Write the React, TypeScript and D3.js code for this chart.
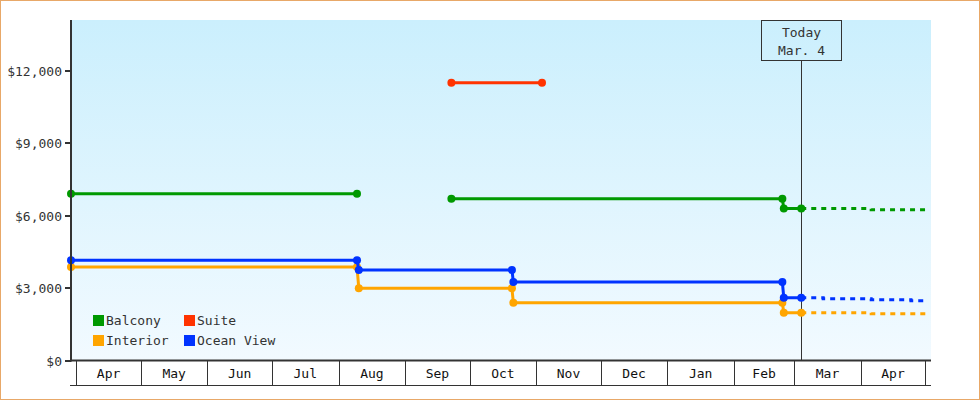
import React from "react";
import * as d3 from "d3";

type Pt = [string, number | null];

const balcony: Pt[] = [
  ["2014-03-29T12:00", 6900], ["2014-08-09T14:00", 6900], ["2014-08-15T00:00", null],
  ["2014-09-22T12:00", 6700], ["2015-02-23T12:00", 6700], ["2015-02-24T04:00", 6290], ["2015-03-04T07:00", 6290],
];
const balconyForecast: Pt[] = [["2015-03-04T07:00", 6290], ["2015-04-05T20:00", 6240], ["2015-05-01T08:00", 6240]];
const suite: Pt[] = [["2014-09-22T12:00", 11500], ["2014-11-03T16:00", 11500]];
const interior: Pt[] = [
  ["2014-03-29T12:00", 3870], ["2014-08-09T14:00", 3870], ["2014-08-10T10:00", 2990], ["2014-10-20T16:00", 2990],
  ["2014-10-21T08:00", 2390], ["2015-02-23T12:00", 2390], ["2015-02-24T04:00", 1975], ["2015-03-04T07:00", 1975],
];
const interiorForecast: Pt[] = [["2015-03-04T07:00", 1975], ["2015-04-05T20:00", 1935], ["2015-05-01T08:00", 1935]];
const oceanView: Pt[] = [
  ["2014-03-29T12:00", 4150], ["2014-08-09T14:00", 4150], ["2014-08-10T10:00", 3750], ["2014-10-20T16:00", 3750],
  ["2014-10-21T08:00", 3250], ["2015-02-23T12:00", 3250], ["2015-02-24T04:00", 2600], ["2015-03-04T07:00", 2600],
];
const oceanViewForecast: Pt[] = [
  ["2015-03-04T07:00", 2600], ["2015-03-14T12:00", 2555], ["2015-04-05T20:00", 2515],
  ["2015-04-24T08:00", 2475], ["2015-05-01T08:00", 2475],
];

const yTicks = [0, 3000, 6000, 9000, 12000];
const legendNames = ["Balcony", "Suite", "Interior", "Ocean View"];
const legendColors = ["#009900", "#ff3300", "#ffa500", "#0033ff"];
const todayDate = "2015-03-04T07:00";
const todayLabel = ["Today", "Mar. 4"];

const FONT = "'DejaVu Sans Mono', 'Liberation Mono', monospace";

export default function App() {
  const W = 980, H = 400;
  const left = 71, right = 931, top = 20, bottom = 360.5;
  const x = d3.scaleTime()
    .domain([new Date("2014-03-29T12:00"), new Date("2015-05-03T16:00")])
    .range([left, right]);
  const y = d3.scaleLinear().domain([0, 14100]).range([bottom, top]);

  const parse = (p: Pt) => ({ t: new Date(p[0]), v: p[1] });
  const line = d3.line<{ t: Date; v: number | null }>()
    .defined((d) => d.v != null)
    .x((d) => x(d.t))
    .y((d) => y(d.v as number));
  const stepLine = d3.line<{ t: Date; v: number | null }>()
    .x((d) => x(d.t))
    .y((d) => y(d.v as number))
    .curve(d3.curveStepAfter);

  const actual = [
    { data: balcony, color: legendColors[0] },
    { data: suite, color: legendColors[1] },
    { data: interior, color: legendColors[2] },
    { data: oceanView, color: legendColors[3] },
  ];
  const forecasts = [
    { data: balconyForecast, color: legendColors[0] },
    { data: interiorForecast, color: legendColors[2] },
    { data: oceanViewForecast, color: legendColors[3] },
  ];

  const months = d3.timeMonth.range(new Date("2014-04-01T00:00"), new Date("2015-05-02T00:00"));
  const fmt = d3.timeFormat("%b");
  const tx = x(new Date(todayDate));

  return (
    <svg width={W} height={H} style={{ position: "absolute", left: 0, top: 0, display: "block" }}
      fontFamily={FONT} fontSize={13}>
      <defs>
        <linearGradient id="bg" x1="0" y1="0" x2="0" y2="1">
          <stop offset="0%" stopColor="#cbeffd" />
          <stop offset="100%" stopColor="#f2faff" />
        </linearGradient>
      </defs>
      <rect x={0.5} y={0.5} width={W - 1} height={H - 1} fill="#fff" stroke="#e8a868" />
      <rect x={left} y={top} width={right - left} height={bottom - top} fill="url(#bg)" />

      {/* y axis */}
      {yTicks.map((t) => (
        <g key={t}>
          <line x1={65} x2={left} y1={Math.round(y(t))} y2={Math.round(y(t))} stroke="#333" strokeWidth={2} />
          <text x={62} y={Math.round(y(t)) + 4.5} textAnchor="end" fill="#333">
            {"$" + d3.format(",")(t)}
          </text>
        </g>
      ))}

      {/* x axis band */}
      <line x1={70} x2={right} y1={385.5} y2={385.5} stroke="#333" strokeWidth={1} />
      {months.map((m, i) => {
        const mx = Math.round(x(m)) + 0.5;
        const next = months[i + 1];
        return (
          <g key={i}>
            <line x1={mx} x2={mx} y1={361} y2={385} stroke="#333" strokeWidth={1} />
            {next && (
              <text x={(x(m) + x(next)) / 2} y={377.5} textAnchor="middle" fill="#111">
                {fmt(m)}
              </text>
            )}
          </g>
        );
      })}

      {/* legend */}
      {legendNames.map((n, i) => {
        const lx = i % 2 === 0 ? 93 : 184;
        const ly = i < 2 ? 315 : 335;
        return (
          <g key={n}>
            <rect x={lx} y={ly} width={11} height={11} fill={legendColors[i]} />
            <text x={lx + 13} y={ly + 10} fill="#333">{n}</text>
          </g>
        );
      })}

      {/* today marker */}
      <line x1={Math.round(tx) + 0.5} x2={Math.round(tx) + 0.5} y1={61} y2={bottom} stroke="#333" strokeWidth={1} />
      <rect x={761.5} y={20.5} width={80} height={40} fill="none" stroke="#333" strokeWidth={1} />
      <text x={801.5} y={37} textAnchor="middle" fill="#333">{todayLabel[0]}</text>
      <text x={801.5} y={54.5} textAnchor="middle" fill="#333">{todayLabel[1]}</text>

      {/* forecasts */}
      {forecasts.map((s, i) => (
        <path key={"f" + i} d={stepLine(s.data.map(parse)) || ""} fill="none" stroke={s.color}
          strokeWidth={3} strokeDasharray="5,5" />
      ))}

      {/* actual series */}
      {actual.map((s, i) => {
        const pts = s.data.map(parse);
        return (
          <g key={"a" + i}>
            <path d={line(pts) || ""} fill="none" stroke={s.color} strokeWidth={3} />
            {pts.filter((p) => p.v != null).map((p, j) => (
              <circle key={j} cx={x(p.t)} cy={y(p.v as number)} r={4} fill={s.color} />
            ))}
          </g>
        );
      })}

      {/* axes lines */}
      <line x1={left} x2={left} y1={top} y2={bottom + 1} stroke="#333" strokeWidth={2} />
      <line x1={left - 1} x2={right} y1={bottom} y2={bottom} stroke="#333" strokeWidth={2} />
    </svg>
  );
}
